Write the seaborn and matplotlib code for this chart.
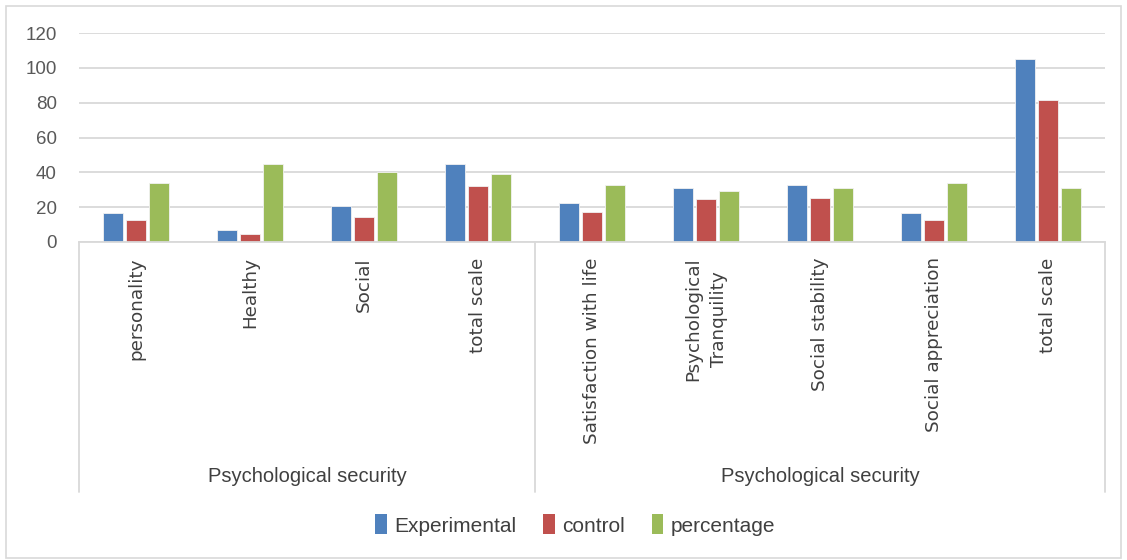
import matplotlib
matplotlib.use("Agg")
import matplotlib.pyplot as plt
import matplotlib.transforms as mtransforms
from matplotlib.patches import Rectangle
import pandas as pd
import seaborn as sns

# chart data
labels = ["personality", "Healthy", "Social", "total scale",
          "Satisfaction with life", "Psychological\nTranquility",
          "Social stability", "Social appreciation", "total scale"]
group_names = ["Psychological security", "Psychological security"]
group_sizes = [4, 5]
experimental = [16.8, 6.7, 20.6, 45.0, 22.5, 30.8, 32.7, 16.8, 105.0]
control = [12.5, 4.4, 14.1, 32.4, 17.1, 24.5, 25.4, 12.9, 81.5]
percentage = [33.7, 45.0, 40.0, 38.9, 32.7, 29.3, 30.8, 33.9, 31.2]
series = ["Experimental", "control", "percentage"]
colors = ["#4F81BD", "#C0504D", "#9BBB59"]
y_ticks = [0, 20, 40, 60, 80, 100, 120]

# long-form table, unique key per category (labels repeat)
keys = [f"{i}:{lab}" for i, lab in enumerate(labels)]
rows = []
for name, vals in zip(series, [experimental, control, percentage]):
    for k, v in zip(keys, vals):
        rows.append({"key": k, "series": name, "value": v})
df = pd.DataFrame(rows)

sns.set_style("white")
plt.rcParams["font.family"] = ["DejaVu Sans"]

W, H = 1127, 560
fig = plt.figure(figsize=(W / 100, H / 100), dpi=100)
ax_left, ax_right, ax_top, ax_bottom = 79, 1105, 33, 242
ax = fig.add_axes([ax_left / W, 1 - ax_bottom / H,
                   (ax_right - ax_left) / W, (ax_bottom - ax_top) / H])

sns.barplot(data=df, x="key", y="value", hue="series", order=keys,
            hue_order=series, palette=colors, saturation=1, width=0.6,
            gap=0.12, errorbar=None, edgecolor="#F2F2F2", linewidth=0.6,
            ax=ax, legend=False)

ax.set_ylim(0, 120)
ax.set_xlim(-0.5, len(labels) - 0.5)
ax.set_yticks(y_ticks)
ax.yaxis.grid(True, color="#D9D9D9", linewidth=1.3)
ax.set_axisbelow(True)
for s in ["top", "right", "left"]:
    ax.spines[s].set_visible(False)
ax.spines["bottom"].set_color("#D9D9D9")
ax.spines["bottom"].set_linewidth(1.3)
ax.set_xlabel("")
ax.set_ylabel("")

ax.tick_params(axis="y", length=0, pad=16, labelsize=13.5, labelcolor="#595959")
ax.tick_params(axis="x", length=0, pad=11)
ax.set_xticks(range(len(labels)))
ax.set_xticklabels(labels, rotation=90, va="top", ha="center",
                   multialignment="center", linespacing=1.5,
                   fontsize=13.2, color="#404040")
for t in ax.get_yticklabels():
    t.set_fontfamily(["Liberation Sans", "DejaVu Sans"])

# multi-level category axis: separators and group labels
trans = mtransforms.blended_transform_factory(ax.transData, ax.transAxes)
ax_h = ax_bottom - ax_top
y_line = (ax_bottom - 492) / ax_h
y_group = (ax_bottom - 477) / ax_h
edges = [-0.5]
for n in group_sizes:
    edges.append(edges[-1] + n)
for e in edges:
    ax.plot([e, e], [0, y_line], transform=trans, color="#D9D9D9",
            linewidth=1.3, clip_on=False)
for name, a, b in zip(group_names, edges[:-1], edges[1:]):
    ax.text((a + b) / 2, y_group, name, transform=trans, ha="center",
            va="center", fontsize=14.5, color="#404040",
            family=["Liberation Sans Narrow", "Liberation Sans"])

# legend
handles = [Rectangle((0, 0), 1, 1, facecolor=c, edgecolor="none") for c in colors]
fig.legend(handles, series, loc="center", bbox_to_anchor=(575 / W, 1 - 525 / H),
           ncol=3, frameon=False, handlelength=0.55, handleheight=1.1,
           handletextpad=0.35, columnspacing=1.3,
           prop={"family": ["Liberation Sans Narrow", "Liberation Sans"], "size": 15})
for t in fig.legends[0].get_texts():
    t.set_color("#404040")

# outer chart border
fig.patches.append(Rectangle((6 / W, 2 / H), (1121 - 6) / W, (554 - 2) / H,
                             transform=fig.transFigure, fill=False,
                             edgecolor="#D9D9D9", linewidth=1.2))

fig.savefig("out.png", dpi=100)
